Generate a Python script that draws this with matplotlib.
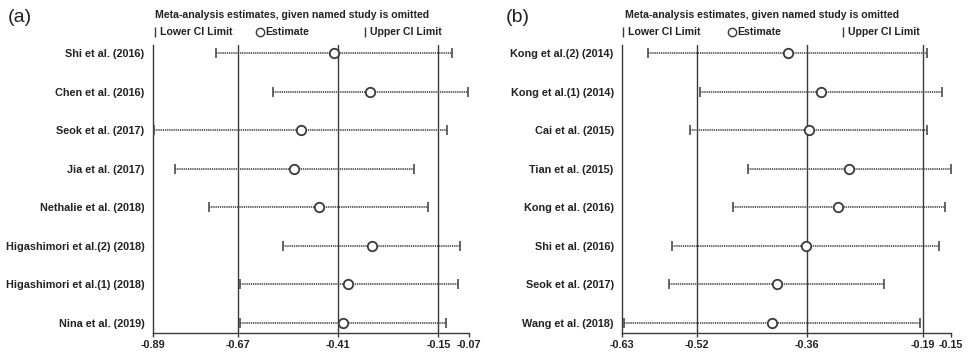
import matplotlib
matplotlib.use("Agg")
import matplotlib.pyplot as plt
from matplotlib.lines import Line2D

# ---- data ----
studies_a = ["Shi et al. (2016)", "Chen et al. (2016)", "Seok et al. (2017)", "Jia et al. (2017)",
             "Nethalie et al. (2018)", "Higashimori et al.(2) (2018)", "Higashimori et al.(1) (2018)",
             "Nina et al. (2019)"]
est_a = [-0.420, -0.326, -0.507, -0.523, -0.459, -0.323, -0.384, -0.396]
lower_a = [-0.725, -0.579, -0.887, -0.832, -0.743, -0.553, -0.665, -0.663]
upper_a = [-0.116, -0.074, -0.128, -0.213, -0.176, -0.093, -0.100, -0.130]
ticks_a = [-0.89, -0.67, -0.41, -0.15, -0.07]
ref_a = [-0.67, -0.41, -0.15]

studies_b = ["Kong et al.(2) (2014)", "Kong et al.(1) (2014)", "Cai et al. (2015)", "Tian et al. (2015)",
             "Kong et al. (2016)", "Shi et al. (2016)", "Seok et al. (2017)", "Wang et al. (2018)"]
est_b = [-0.388, -0.340, -0.357, -0.298, -0.314, -0.362, -0.404, -0.411]
lower_b = [-0.592, -0.516, -0.530, -0.446, -0.468, -0.557, -0.561, -0.627]
upper_b = [-0.184, -0.163, -0.185, -0.150, -0.159, -0.167, -0.247, -0.195]
ticks_b = [-0.63, -0.52, -0.36, -0.19, -0.15]
ref_b = [-0.52, -0.36, -0.19]

TITLE = "Meta-analysis estimates, given named study is omitted"
DARK = "#3a3a3a"
LINE = "#4a4a4a"
TXT = "#222222"

plt.rcParams.update({
    "font.family": ["Liberation Sans", "DejaVu Sans"],
    "font.size": 7.5,
    "font.weight": "bold",
    "text.color": TXT,
})

W, H = 969, 356
fig = plt.figure(figsize=(W / 100, H / 100), dpi=100)


def fx(px):
    return px / W


def fy(py):
    return 1 - py / H


def panel(rect, studies, est, lower, upper, ticks, refs):
    ax = fig.add_axes(rect)
    y = list(range(1, len(studies) + 1))
    for r in refs:
        ax.axvline(r, color=DARK, linewidth=1.0, zorder=1)
    ax.hlines(y, lower, upper, colors=LINE, linewidth=1.2, linestyles=(0, (0.8, 0.5)), zorder=2)
    ax.plot(lower, y, linestyle="none", marker="|", markersize=7.5, markeredgewidth=1.2, color=LINE, zorder=3)
    ax.plot(upper, y, linestyle="none", marker="|", markersize=7.5, markeredgewidth=1.2, color=LINE, zorder=3)
    ax.plot(est, y, linestyle="none", marker="o", markersize=6.8, markerfacecolor="white",
            markeredgecolor=DARK, markeredgewidth=1.3, zorder=4)
    ax.set_xlim(ticks[0], ticks[-1])
    ax.set_ylim(len(studies) + 0.27, 0.79)
    ax.set_yticks(y)
    ax.set_yticklabels(studies, color=TXT)
    ax.set_xticks(ticks)
    ax.set_xticklabels([f"{t:.2f}" for t in ticks], color=TXT)
    ax.tick_params(axis="y", length=0, pad=6, labelsize=7.8)
    ax.tick_params(axis="x", length=3, width=1.0, color=DARK, pad=2, labelsize=7.8)
    for s in ("top", "right"):
        ax.spines[s].set_visible(False)
    for s in ("left", "bottom"):
        ax.spines[s].set_color(DARK)
        ax.spines[s].set_linewidth(1.0)
    return ax


top, bottom = 45, 333
panel([fx(152.7), fy(bottom), fx(469.3) - fx(152.7), fy(top) - fy(bottom)],
      studies_a, est_a, lower_a, upper_a, ticks_a, ref_a)
panel([fx(622), fy(bottom), fx(950.7) - fx(622), fy(top) - fy(bottom)],
      studies_b, est_b, lower_b, upper_b, ticks_b, ref_b)


def header(tag, label_x, title_x, lo_x, est_x, up_x):
    fig.text(fx(label_x), fy(18), tag, fontsize=14, fontweight="normal", va="center", ha="left")
    fig.text(fx(title_x), fy(15), TITLE, va="center", ha="left", fontsize=7.6)
    for x, txt, mk in ((lo_x, "Lower CI Limit", "|"), (est_x, "Estimate", "o"), (up_x, "Upper CI Limit", "|")):
        fig.add_artist(Line2D([fx(x)], [fy(32)], transform=fig.transFigure, marker=mk,
                              markersize=6.5 if mk == "|" else 6,
                              markerfacecolor="white", markeredgecolor=DARK, markeredgewidth=1.0,
                              color=DARK, linestyle="none"))
        fig.text(fx(x + 5), fy(32), txt, va="center", ha="left", fontsize=7.6)


header("(a)", 8, 155, 155, 260, 365)
header("(b)", 506, 625, 623, 732, 843)

fig.savefig("out.png", dpi=100, facecolor="white")
